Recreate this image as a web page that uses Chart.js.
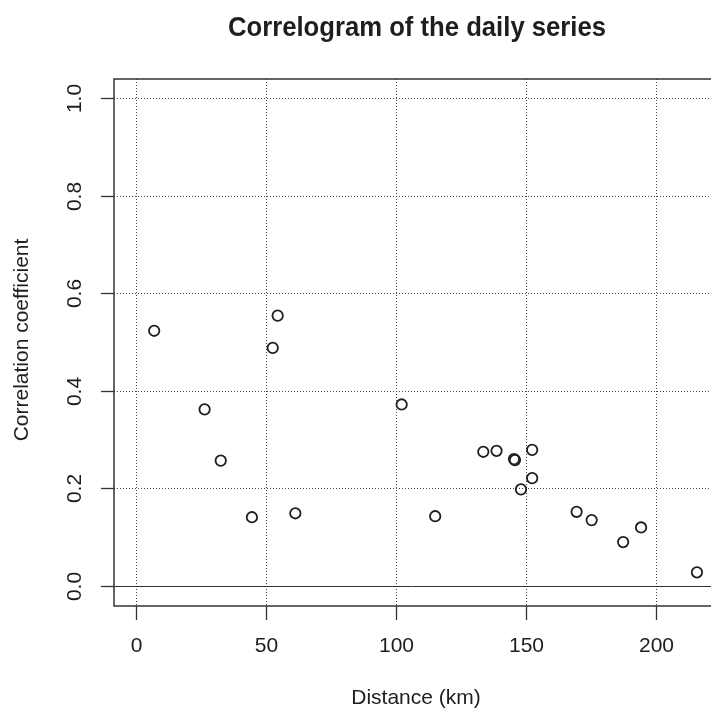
<!DOCTYPE html>
<html>
<head>
<meta charset="utf-8">
<script src="https://cdn.jsdelivr.net/npm/chart.js@4/dist/chart.umd.min.js"></script>
<style>
  html, body { margin: 0; padding: 0; background: #ffffff; overflow: hidden; }
  canvas { display: block; }
</style>
</head>
<body>
<canvas id="chart" width="711" height="709"></canvas>
<script>
// station-pair distance (km) and correlation of the daily series
const distanceKm = [7.0, 26.4, 32.6, 44.6, 52.6, 54.5, 61.3, 102.2, 115.1, 133.6, 138.7, 145.4, 145.8, 148.1, 152.4, 152.4, 169.5, 175.3, 187.4, 194.3, 215.8];
const correlation = [0.523, 0.362, 0.257, 0.141, 0.488, 0.554, 0.149, 0.372, 0.143, 0.275, 0.277, 0.260, 0.258, 0.198, 0.279, 0.221, 0.152, 0.135, 0.090, 0.120, 0.028];

const xTicks = [0, 50, 100, 150, 200];
const yTicks = [0.0, 0.2, 0.4, 0.6, 0.8, 1.0];

const TITLE = 'Correlogram of the daily series';
const X_TITLE = 'Distance (km)';
const Y_TITLE = 'Correlation coefficient';
const FONT = '"Liberation Sans", Arial, sans-serif';
const INK = '#1e1e1e';

// R-style frame: dotted grid, h=0 line, box, outside tick marks and labels
const baseGraphics = {
  id: 'baseGraphics',
  beforeDatasetsDraw(chart) {
    const { ctx, chartArea: a, scales: { x, y } } = chart;
    ctx.save();
    ctx.strokeStyle = '#444444';
    ctx.lineWidth = 1;
    ctx.setLineDash([1, 2]);
    xTicks.forEach((v) => {
      const px = Math.round(x.getPixelForValue(v)) + 0.5;
      ctx.beginPath();
      ctx.moveTo(px, a.top);
      ctx.lineTo(px, a.bottom);
      ctx.stroke();
    });
    yTicks.forEach((v) => {
      const py = Math.round(y.getPixelForValue(v)) + 0.5;
      ctx.beginPath();
      ctx.moveTo(a.left, py);
      ctx.lineTo(a.right, py);
      ctx.stroke();
    });
    ctx.setLineDash([]);
    ctx.strokeStyle = '#333333';
    const y0 = Math.round(y.getPixelForValue(0)) + 0.5;
    ctx.beginPath();
    ctx.moveTo(a.left, y0);
    ctx.lineTo(a.right, y0);
    ctx.stroke();
    ctx.restore();
  },
  afterDraw(chart) {
    const { ctx, chartArea: a, scales: { x, y } } = chart;
    ctx.save();
    ctx.strokeStyle = '#333333';
    ctx.lineWidth = 1.5;
    ctx.strokeRect(a.left, a.top, a.right - a.left + 20, a.bottom - a.top);

    ctx.lineWidth = 1.3;
    ctx.fillStyle = INK;
    ctx.font = '21px ' + FONT;
    ctx.textAlign = 'center';
    ctx.textBaseline = 'middle';
    xTicks.forEach((v) => {
      const px = Math.round(x.getPixelForValue(v)) + 0.5;
      ctx.beginPath();
      ctx.moveTo(px, a.bottom);
      ctx.lineTo(px, a.bottom + 14);
      ctx.stroke();
      ctx.fillText(String(v), px, a.bottom + 40, 12 * String(v).length);
    });
    yTicks.forEach((v) => {
      const py = Math.round(y.getPixelForValue(v)) + 0.5;
      ctx.beginPath();
      ctx.moveTo(a.left, py);
      ctx.lineTo(a.left - 13, py);
      ctx.stroke();
      ctx.save();
      ctx.translate(75, py);
      ctx.rotate(-Math.PI / 2);
      ctx.fillText(v.toFixed(1), 0, 0, 31);
      ctx.restore();
    });

    ctx.fillText(X_TITLE, 416, 698, 131);
    ctx.save();
    ctx.translate(22, 340);
    ctx.rotate(-Math.PI / 2);
    ctx.fillText(Y_TITLE, 0, 0, 215);
    ctx.restore();

    ctx.font = 'bold 28px ' + FONT;
    ctx.fillText(TITLE, 417, 28, 378);
    ctx.restore();
  }
};

new Chart(document.getElementById('chart'), {
  type: 'scatter',
  data: {
    datasets: [{
      label: 'correlation',
      data: distanceKm.map((d, i) => ({ x: d, y: correlation[i] })),
      borderColor: INK,
      backgroundColor: 'rgba(0,0,0,0)',
      borderWidth: 1.8,
      pointRadius: 5.2,
      pointHoverRadius: 5.2
    }]
  },
  options: {
    responsive: false,
    animation: false,
    layout: { autoPadding: false, padding: { left: 114, top: 79, right: 0, bottom: 103 } },
    scales: {
      x: { type: 'linear', min: -8.46, max: 221.2, display: false },
      y: { type: 'linear', min: -0.041, max: 1.039, display: false }
    },
    plugins: {
      legend: { display: false },
      tooltip: { enabled: false }
    }
  },
  plugins: [baseGraphics]
});
</script>
</body>
</html>
